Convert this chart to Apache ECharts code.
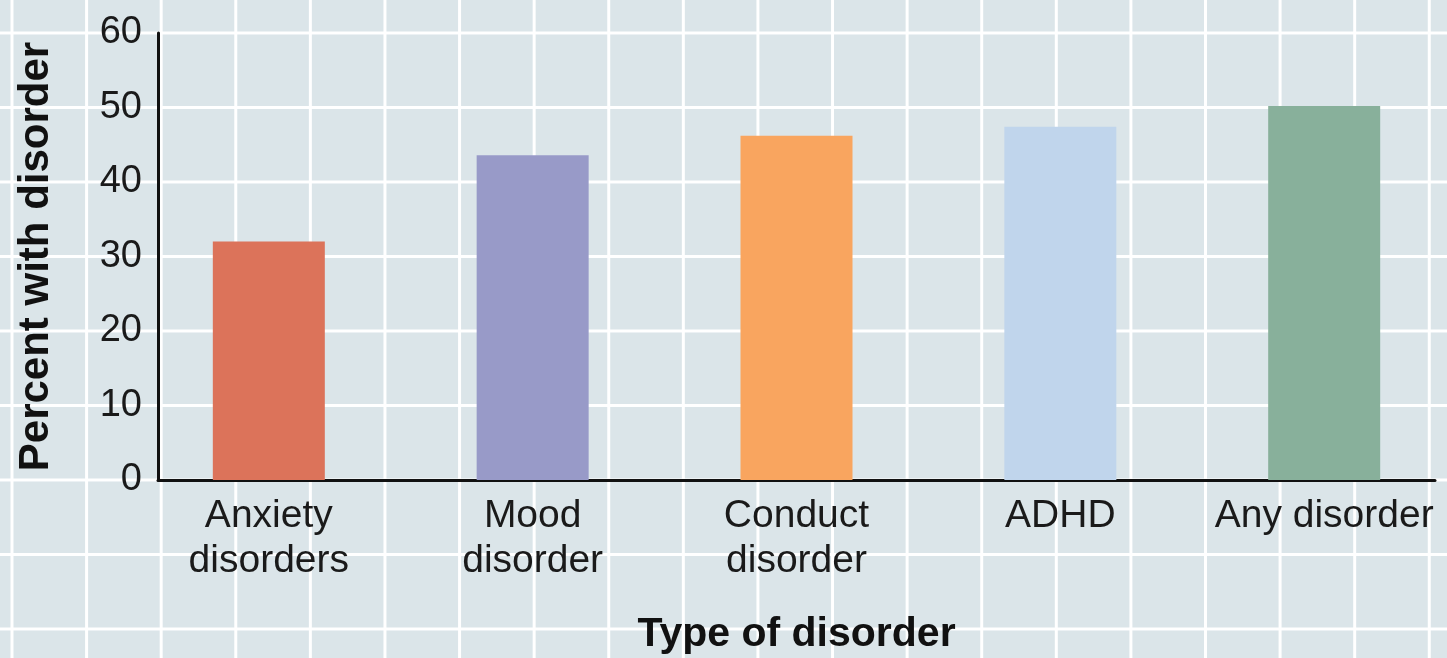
<!DOCTYPE html>
<html>
<head>
<meta charset="utf-8">
<script src="https://cdn.jsdelivr.net/npm/echarts@6/dist/echarts.min.js"></script>
<style>
  html, body { margin: 0; padding: 0; }
  #chart {
    width: 1447px; height: 658px;
    background-color: #dbe5e9;
    background-image:
      linear-gradient(90deg, #ffffff 3px, transparent 3px),
      linear-gradient(180deg, #ffffff 3px, transparent 3px);
    background-size: 74.6px 100%, 100% 74.5px;
    background-position: 10.5px 0, 0 31.5px;
  }
</style>
</head>
<body>
<div id="chart"></div>
<script>
const categories = ['Anxiety\ndisorders', 'Mood\ndisorder', 'Conduct\ndisorder', 'ADHD', 'Any disorder'];
const percentWithDisorder = [32, 43.6, 46.2, 47.4, 50.2];
const barColors = ['#dc735a', '#989ac8', '#f9a55f', '#c0d5ec', '#88b09b'];
const yTicks = [0, 10, 20, 30, 40, 50, 60];
const xTitle = 'Type of disorder';
const yTitle = 'Percent with disorder';

const font = '"Liberation Sans", Arial, sans-serif';
const chart = echarts.init(document.getElementById('chart'), null, { renderer: 'canvas' });

chart.setOption({
  backgroundColor: 'transparent',
  animation: false,
  grid: { left: 158, right: 12, top: 33, bottom: 178, containLabel: false, outerBoundsMode: 'none' },
  xAxis: {
    type: 'value',
    min: -0.42,
    max: 4.42,
    name: xTitle,
    nameLocation: 'middle',
    nameGap: 134,
    nameTextStyle: { fontFamily: font, fontSize: 41, fontWeight: 'bold', color: '#111' },
    axisLine: { show: true, onZero: false, lineStyle: { color: '#111', width: 3 } },
    axisTick: { show: false },
    splitLine: { show: false },
    axisLabel: {
      customValues: categories.map((c, i) => i),
      formatter: v => categories[Math.round(v)],
      fontFamily: font, fontSize: 39, lineHeight: 45, color: '#1a1a1a', margin: 14
    }
  },
  yAxis: {
    type: 'value',
    min: yTicks[0],
    max: yTicks[yTicks.length - 1],
    interval: 10,
    name: yTitle,
    nameLocation: 'middle',
    nameGap: 101,
    nameTextStyle: { fontFamily: font, fontSize: 42, fontWeight: 'bold', color: '#111' },
    axisLine: { show: true, onZero: false, lineStyle: { color: '#111', width: 3 } },
    axisTick: { show: false },
    splitLine: { show: false },
    axisLabel: { fontFamily: font, fontSize: 38, color: '#1a1a1a', margin: 16 }
  },
  series: [{
    type: 'bar',
    barWidth: 112,
    data: percentWithDisorder.map((v, i) => ({
      value: [i, v],
      itemStyle: { color: barColors[i] }
    }))
  }]
});
</script>
</body>
</html>
